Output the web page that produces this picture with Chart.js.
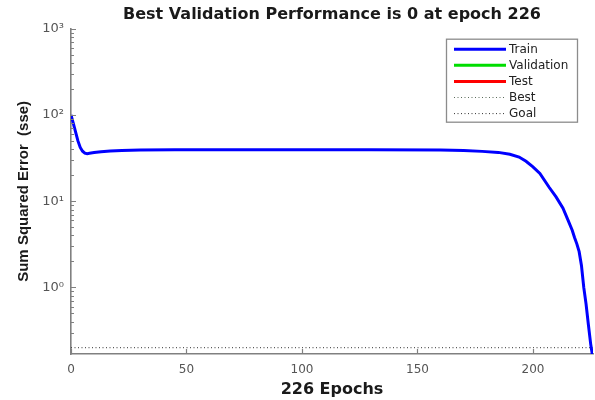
<!DOCTYPE html>
<html>
<head>
<meta charset="utf-8">
<script src="https://cdn.jsdelivr.net/npm/chart.js@4.4.1/dist/chart.umd.min.js"></script>
<style>
  html, body { margin: 0; padding: 0; background: #ffffff; }
  #wrap { width: 595px; height: 400px; position: relative; }
</style>
</head>
<body>
<div id="wrap"><canvas id="c" width="595" height="400"></canvas></div>
<script>
// ---- Data ----
const epochs    = [0, 1, 2, 3, 4, 5, 6, 7, 8, 10, 13, 17, 22, 30, 45, 70, 100, 130, 160, 170, 178, 185, 190, 194, 197, 200, 203, 207, 210, 213, 215, 217, 218, 219, 220, 221, 222, 223, 224, 225, 226];
const trainPerf = [100, 80, 63, 50, 42, 38, 36, 35.6, 35.9, 36.6, 37.5, 38.2, 38.7, 39.1, 39.4, 39.5, 39.5, 39.4, 39.2, 38.8, 37.8, 36.8, 35, 32.5, 29, 25, 21, 14.5, 11.2, 8.3, 6.2, 4.6, 3.8, 3.2, 2.6, 1.8, 1.0, 0.64, 0.37, 0.22, 0.15];
const validationPerf = [];
const testPerf = [];
const bestPerf = [];
const goalEpochs = [0, 226];
const goalPerf = [0.2, 0.2];
const seriesNames = ['Train', 'Validation', 'Test', 'Best', 'Goal'];
const xTickValues = [0, 50, 100, 150, 200];
const titleText = 'Best Validation Performance is 0 at epoch 226';
const xLabel = '226 Epochs';
const yLabel = 'Sum Squared Error  (sse)';

const sup = {'-':'\u207B','0':'\u2070','1':'\u00B9','2':'\u00B2','3':'\u00B3','4':'\u2074','5':'\u2075','6':'\u2076','7':'\u2077','8':'\u2078','9':'\u2079'};
function powLabel(v) {
  const e = Math.log10(v);
  if (Math.abs(e - Math.round(e)) > 1e-9) return '';
  return '10' + String(Math.round(e)).split('').map(c => sup[c]).join('');
}

const toXY = (xs, ys) => xs.map((x, i) => ({x: x, y: ys[i]}));

const AXIS_COLOR = '#808080';

const inwardTicks = {
  id: 'inwardTicks',
  afterDatasetsDraw(chart) {
    const {ctx, chartArea: ca, scales: {x, y}} = chart;
    ctx.save();
    ctx.strokeStyle = AXIS_COLOR;
    ctx.lineWidth = 1.2;
    ctx.beginPath();
    x.ticks.forEach(t => {
      const px = Math.round(x.getPixelForValue(t.value)) + 0.5;
      ctx.moveTo(px, ca.bottom);
      ctx.lineTo(px, ca.bottom - 5);
    });
    y.ticks.forEach(t => {
      const v = t.value;
      const e = Math.floor(Math.log10(v) + 1e-9);
      const m = v / Math.pow(10, e);
      if (Math.abs(m - Math.round(m)) > 1e-6) return;
      const len = Math.round(m) === 1 ? 5 : 3;
      const py = Math.round(y.getPixelForValue(v)) + 0.5;
      ctx.moveTo(ca.left, py);
      ctx.lineTo(ca.left + len, py);
    });
    ctx.stroke();
    ctx.restore();
  }
};

const boxLegend = {
  id: 'boxLegend',
  afterDraw(chart) {
    const {ctx, chartArea: ca} = chart;
    const right = ca.right - 16, top = ca.top + 10;
    const w = 131, h = 83;
    const left = right - w;
    ctx.save();
    ctx.fillStyle = '#ffffff';
    ctx.fillRect(left, top, w, h);
    ctx.strokeStyle = '#8c8c8c';
    ctx.lineWidth = 1.3;
    ctx.strokeRect(left + 0.5, top + 0.5, w, h);
    ctx.font = '12px "DejaVu Sans"';
    ctx.textBaseline = 'middle';
    ctx.textAlign = 'left';
    chart.data.datasets.forEach((ds, i) => {
      const yy = top + 10.5 + i * 16.1;
      ctx.beginPath();
      ctx.setLineDash(ds.borderDash || []);
      ctx.strokeStyle = ds.borderColor;
      ctx.lineWidth = ds.borderDash ? 1 : 3;
      ctx.moveTo(left + 8, yy);
      ctx.lineTo(left + 60, yy);
      ctx.stroke();
      ctx.setLineDash([]);
      ctx.fillStyle = '#222222';
      ctx.fillText(ds.label, left + 63, yy + 0.5);
    });
    ctx.restore();
  }
};

new Chart(document.getElementById('c'), {
  type: 'line',
  data: {
    datasets: [
      { label: seriesNames[0], data: toXY(epochs, trainPerf), borderColor: '#0000ff', backgroundColor: '#0000ff', borderWidth: 3, pointRadius: 0, tension: 0 },
      { label: seriesNames[1], data: validationPerf, borderColor: '#00dd00', backgroundColor: '#00dd00', borderWidth: 3, pointRadius: 0 },
      { label: seriesNames[2], data: testPerf, borderColor: '#ff0000', backgroundColor: '#ff0000', borderWidth: 3, pointRadius: 0 },
      { label: seriesNames[3], data: bestPerf, borderColor: '#5a6a5a', backgroundColor: '#5a6a5a', borderWidth: 1, borderDash: [1, 2.5], pointRadius: 0 },
      { label: seriesNames[4], data: toXY(goalEpochs, goalPerf), borderColor: '#333333', backgroundColor: '#333333', borderWidth: 1, borderDash: [1, 2.5], pointRadius: 0 }
    ]
  },
  options: {
    responsive: false,
    animation: false,
    events: [],
    layout: { padding: { left: 0, right: 2, top: 0, bottom: 0 } },
    plugins: {
      legend: { display: false },
      tooltip: { enabled: false },
      title: {
        display: true,
        text: titleText,
        fullSize: false,
        color: '#1a1a1a',
        font: { family: '"DejaVu Sans"', size: 16, weight: 'bold', lineHeight: 1.2 },
        padding: { top: 5, bottom: 4.5 }
      }
    },
    scales: {
      x: {
        type: 'linear',
        min: 0,
        max: 226,
        afterBuildTicks(s) { s.ticks = xTickValues.map(v => ({ value: v })); },
        afterFit(s) { s.height = 46; },
        grid: { display: false, drawTicks: false },
        border: { display: true, color: AXIS_COLOR, width: 1.6 },
        ticks: {
          autoSkip: false, maxRotation: 0, padding: 9, color: '#555555',
          font: { family: '"DejaVu Sans"', size: 12 }
        },
        title: {
          display: true, text: xLabel, color: '#1a1a1a',
          font: { family: '"DejaVu Sans"', size: 16, weight: 'bold', lineHeight: 1.2 },
          padding: { top: 0, bottom: 1 }
        }
      },
      y: {
        type: 'logarithmic',
        min: 0.169,
        max: 1000,
        afterFit(s) { s.width = 71; },
        grid: { display: false, drawTicks: false },
        border: { display: true, color: AXIS_COLOR, width: 1.6 },
        ticks: {
          autoSkip: false, padding: 7, color: '#555555',
          font: { family: '"DejaVu Sans"', size: 13 },
          callback: (v) => powLabel(v)
        },
        title: {
          display: true, text: yLabel, color: '#1a1a1a',
          font: { family: '"Liberation Sans"', size: 15, weight: 'bold', lineHeight: 1.2 },
          padding: { top: 15, bottom: 0 }
        }
      }
    }
  },
  plugins: [inwardTicks, boxLegend]
});
</script>
</body>
</html>
